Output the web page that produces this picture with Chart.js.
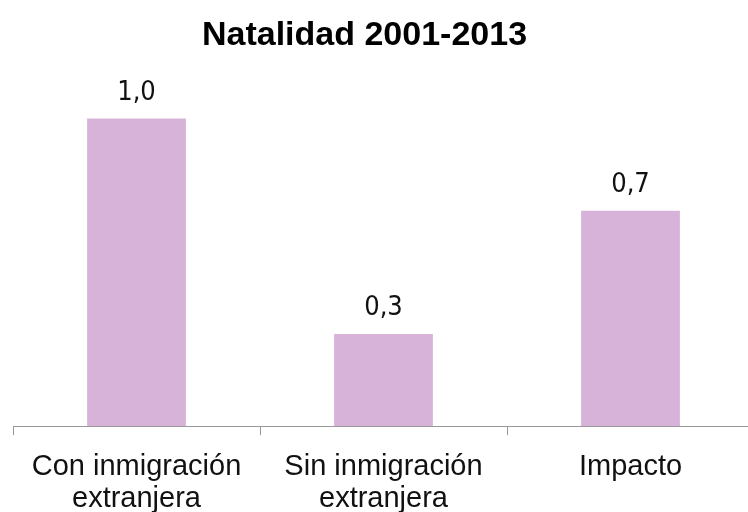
<!DOCTYPE html>
<html>
<head>
<meta charset="utf-8">
<script src="https://cdn.jsdelivr.net/npm/chart.js@4.4.0/dist/chart.umd.min.js"></script>
<style>
html,body{margin:0;padding:0;background:#fff;overflow:hidden;width:748px;height:512px;}
#wrap{position:absolute;left:0;top:0;width:756px;height:512px;}
</style>
</head>
<body>
<div id="wrap"><canvas id="c" width="756" height="512"></canvas></div>
<script>
const titleText = "Natalidad 2001-2013";
const categories = [["Con inmigración","extranjera"],["Sin inmigración","extranjera"],["Impacto"]];
const values = [1.0, 0.3, 0.7];
const barColor = "#D7B3DA";

const valueLabels = {
  id: 'valueLabels',
  afterDatasetsDraw(chart) {
    const ctx = chart.ctx;
    const meta = chart.getDatasetMeta(0);
    ctx.save();
    ctx.font = '27px "Liberation Sans Narrow", "DejaVu Sans Condensed", "Liberation Sans", sans-serif';
    ctx.fillStyle = '#111';
    ctx.textAlign = 'center';
    ctx.textBaseline = 'alphabetic';
    meta.data.forEach((el, i) => {
      ctx.fillText(values[i].toFixed(1).replace('.', ','), el.x, el.y - 19);
    });
    ctx.restore();
  }
};
const titlePlugin = {
  id: 'titleText',
  afterDraw(chart) {
    const ctx = chart.ctx;
    ctx.save();
    ctx.font = 'bold 34px "Liberation Sans", sans-serif';
    ctx.fillStyle = '#000';
    ctx.textAlign = 'center';
    ctx.textBaseline = 'alphabetic';
    ctx.fillText(titleText, (chart.chartArea.left + chart.chartArea.right) / 2 - 19, 45);
    ctx.restore();
  }
};

new Chart(document.getElementById('c'), {
  type: 'bar',
  data: {
    labels: categories,
    datasets: [{ data: values, backgroundColor: barColor, barPercentage: 0.4, categoryPercentage: 1.0 }]
  },
  options: {
    responsive: false,
    animation: false,
    layout: { padding: { left: 13, right: 2, top: 57, bottom: -19 } },
    plugins: { legend: { display: false }, title: { display: false }, tooltip: { enabled: false } },
    scales: {
      x: {
        grid: { display: true, drawOnChartArea: false, drawTicks: true, tickLength: 9, color: '#999', offset: true },
        border: { display: true, color: '#999', width: 1 },
        ticks: { color: '#111', font: { family: '"Liberation Sans", sans-serif', size: 29, lineHeight: 1.1 }, padding: 16, maxRotation: 0, autoSkip: false }
      },
      y: { display: false, min: 0, max: 1.2 }
    }
  },
  plugins: [valueLabels, titlePlugin]
});
</script>
</body>
</html>
